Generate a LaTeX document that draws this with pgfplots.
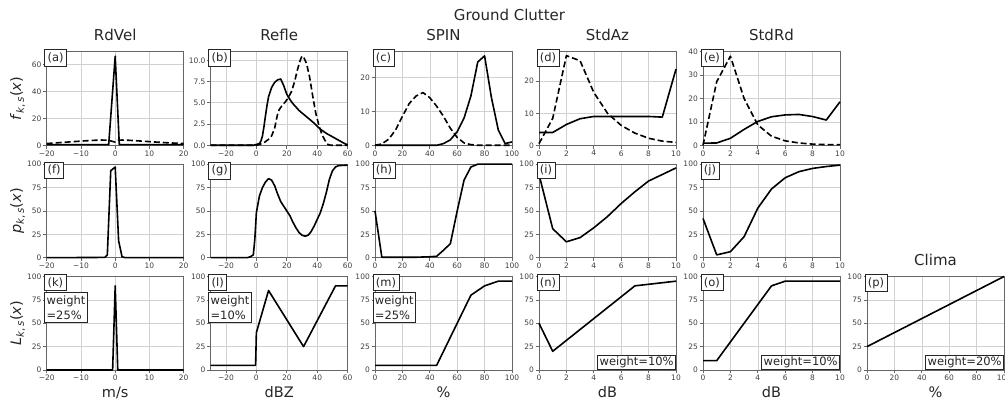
\documentclass[border=0pt]{standalone}
\usepackage{fontspec}
\setmainfont{DejaVu Sans}
\usepackage{pgfplots}
\pgfplotsset{compat=1.18}
\pgfplotsset{
  panel/.style={
    scale only axis, width=137pt, height=93.5pt, clip=false,
    axis line style={black!60, line width=0.8pt},
    grid=major, major grid style={black!18, line width=0.6pt},
    tick align=outside, tick pos=left, major tick length=3.5pt,
    tick style={black!60, line width=0.7pt},
    tick label style={font=\fontsize{7.5}{8}\selectfont, text=black!75, inner sep=1.5pt},
    title style={at={(0.5,1.0535)}, anchor=base, font=\fontsize{15}{17}\selectfont, text=black!85},
    xlabel style={at={(axis description cs:0.5,-0.289)}, anchor=base, font=\fontsize{14.5}{16}\selectfont, text=black!85},
    ylabel style={at={(axis description cs:-0.213,0.5)}, anchor=center, font=\fontsize{14.5}{16}\selectfont, text=black!85},
    every axis plot post/.append style={draw=black, line width=1.6pt, line join=round, mark=none},
    anchor=south west,
  },
  xA/.style={xmin=-20, xmax=20, xtick={-20,-10,0,10,20}, xticklabels={−20,−10,0,10,20}},
  xB/.style={xmin=-30, xmax=60, xtick={-20,0,20,40,60}, xticklabels={−20,0,20,40,60}},
  xC/.style={xmin=0, xmax=100, xtick={0,20,40,60,80,100}, xticklabels={0,20,40,60,80,100}},
  xD/.style={xmin=0, xmax=10, xtick={0,2,4,6,8,10}, xticklabels={0,2,4,6,8,10}},
  yP/.style={ymin=0, ymax=100, ytick={0,25,50,75,100}, yticklabels={0,25,50,75,100}},
  dsh/.style={dash pattern=on 6pt off 3pt},
}
\tikzset{
  lbl/.style={draw=black!85, fill=white, line width=0.8pt, anchor=north west, xshift=-2.5pt, yshift=2.5pt,
    inner sep=3pt, font=\fontsize{11.5}{13}\selectfont, text=black!85},
  wtl/.style={draw=black!85, fill=white, line width=0.8pt, anchor=north west, xshift=-2.5pt, yshift=-15.6pt,
    inner xsep=2pt, inner ysep=3pt, align=left, font=\fontsize{11.5}{15}\selectfont, text=black!85},
  wbr/.style={draw=black!85, fill=white, line width=0.8pt, anchor=south east,
    inner xsep=2pt, inner ysep=1.5pt, font=\fontsize{11.5}{13}\selectfont, text=black!85},
}
\begin{document}
\begin{tikzpicture}
\useasboundingbox (0,0) rectangle (1005pt,401pt);
\node[font=\fontsize{15}{17}\selectfont, text=black!85, anchor=base] at (509.5pt,380.3pt) {Ground Clutter};

% ---------------- Row 1 ----------------
\begin{axis}[panel, at={(46.7pt,255.7pt)}, xA, ymin=0, ymax=69.3, ytick={0,20,40,60}, yticklabels={0,20,40,60},
  title={RdVel}, ylabel={\textit{f}\textsubscript{\textit{k},\,\textit{s}}(\textit{x})}]
\addplot coordinates {(-20,0.5) (-1.9,0.5) (0,66) (1.2,0.5) (20,0.5)};
\addplot[dsh] coordinates {(-20,1.3) (-15,2.2) (-10,3.1) (-6,3.7) (-4,3.9) (-2,3.8) (-1,3.0) (0,2.4) (1,3.8) (2,3.9) (4,3.7) (6,3.4) (10,2.7) (15,1.9) (20,1.3)};
\node[lbl] at (rel axis cs:0,1) {(a)};
\end{axis}

\begin{axis}[panel, at={(210.7pt,255.7pt)}, xB, ymin=0, ymax=11.0, ytick={0,2.5,5,7.5,10}, yticklabels={0.0,2.5,5.0,7.5,10.0},
  title={Refle}]
\addplot coordinates {(-30,0) (-2,0) (0,0.1) (2,0.2) (3,0.5) (4,1.1) (5,2.2) (6,3.5) (7,4.7) (8,5.7) (10,6.8) (12,7.4) (14,7.7) (16,7.8) (18,7.0) (20,6.0) (22,5.4) (24,4.9) (26,4.5) (28,4.1) (30,3.8) (34,3.2) (38,2.6) (42,1.9) (46,1.4) (50,1.0) (54,0.6) (58,0.2) (60,0.05)};
\addplot[dsh] coordinates {(-30,0) (0,0) (2,0.1) (5,0.3) (8,0.7) (10,1.1) (12,2.0) (13,2.9) (14,3.7) (15,4.2) (17,4.7) (19,5.1) (21,5.6) (23,6.3) (25,7.4) (27,8.9) (29,10.1) (30,10.5) (31,10.4) (33,9.6) (35,8.0) (37,5.8) (39,3.8) (41,2.4) (43,1.3) (45,0.6) (47,0.1) (49,0) (60,0)};
\node[lbl] at (rel axis cs:0,1) {(b)};
\end{axis}

\begin{axis}[panel, at={(375pt,255.7pt)}, xC, ymin=0, ymax=27.5, ytick={0,10,20}, yticklabels={0,10,20},
  title={SPIN}]
\addplot coordinates {(0,0) (45,0) (50,0.5) (55,1.6) (60,4) (65,8) (70,14.5) (75,24.5) (80,26.3) (85,14) (90,4.5) (95,0.5) (100,1)};
\addplot[dsh] coordinates {(0,0) (5,0.4) (10,1.8) (15,4.5) (20,8.5) (25,12.3) (30,14.5) (35,15.5) (40,14) (45,11.5) (50,8.5) (55,5) (60,2.3) (65,0.7) (70,0.2) (75,0) (100,0)};
\node[lbl] at (rel axis cs:0,1) {(c)};
\end{axis}

\begin{axis}[panel, at={(539pt,255.7pt)}, xD, ymin=0, ymax=29.2, ytick={0,10,20}, yticklabels={0,10,20},
  title={StdAz}]
\addplot coordinates {(0,4) (1,4) (2,6.5) (3,8.3) (4,9) (5,9) (6,9) (7,9) (8,9) (9,8.8) (10,23.8)};
\addplot[dsh] coordinates {(0,0.5) (1,8.4) (2,28) (3,26.4) (4,16.5) (5,10) (6,6.2) (7,3.8) (8,2.2) (9,1.3) (10,0.9)};
\node[lbl] at (rel axis cs:0,1) {(d)};
\end{axis}

\begin{axis}[panel, at={(703pt,255.7pt)}, xD, ymin=0, ymax=40, ytick={0,10,20,30,40}, yticklabels={0,10,20,30,40},
  title={StdRd}]
\addplot coordinates {(0,0.9) (1,1) (2,3) (3,6.8) (4,10.2) (5,12.2) (6,13) (7,13.2) (8,12.3) (9,10.8) (10,18.6)};
\addplot[dsh] coordinates {(0,0) (1,27.2) (2,38.1) (3,20) (4,8.7) (5,3.9) (6,1.9) (7,1.0) (8,0.5) (9,0.3) (10,0.3)};
\node[lbl] at (rel axis cs:0,1) {(e)};
\end{axis}

% ---------------- Row 2 ----------------
\begin{axis}[panel, at={(46.7pt,143.3pt)}, xA, yP,
  ylabel={\textit{p}\textsubscript{\textit{k},\,\textit{s}}(\textit{x})}]
\addplot coordinates {(-20,0) (-3,0.3) (-2.3,3) (-1.3,93) (0,97) (1,18) (2,1) (3,0) (20,0)};
\node[lbl] at (rel axis cs:0,1) {(f)};
\end{axis}

\begin{axis}[panel, at={(210.7pt,143.3pt)}, xB, yP]
\addplot coordinates {(-30,0) (-6,0) (-4,1) (-2,3) (-1,20) (0,48) (2,66) (4,75) (6,81) (8,84.5) (10,83) (12,77) (14,68) (16,60) (18,55) (20,50) (22,45) (24,38) (26,32) (28,27) (30,24) (32,23) (34,24) (36,28) (38,34) (40,41) (42,48) (44,58) (46,70) (48,84) (50,93) (52,97) (54,98.5) (60,99)};
\node[lbl] at (rel axis cs:0,1) {(g)};
\end{axis}

\begin{axis}[panel, at={(375pt,143.3pt)}, xC, yP]
\addplot coordinates {(0,50) (5,0.5) (10,0.5) (20,0.5) (30,0.5) (40,1) (45,1.5) (50,8) (55,15) (60,50) (65,83) (70,97) (75,100) (100,100)};
\node[lbl] at (rel axis cs:0,1) {(h)};
\end{axis}

\begin{axis}[panel, at={(539pt,143.3pt)}, xD, yP]
\addplot coordinates {(0,89) (1,31) (2,17) (3,21.5) (4,32) (5,44) (6,58) (7,70.5) (8,82) (9,89) (10,96)};
\node[lbl] at (rel axis cs:0,1) {(i)};
\end{axis}

\begin{axis}[panel, at={(703pt,143.3pt)}, xD, yP]
\addplot coordinates {(0,42) (1,3) (2,6.4) (3,22.5) (4,53) (5,73.5) (6,85.5) (7,92) (8,95.5) (9,97.5) (10,99)};
\node[lbl] at (rel axis cs:0,1) {(j)};
\end{axis}

% ---------------- Row 3 ----------------
\begin{axis}[panel, at={(46.7pt,31pt)}, xA, yP, xlabel={m/s},
  ylabel={\textit{L}\textsubscript{\textit{k},\,\textit{s}}(\textit{x})}]
\addplot coordinates {(-20,0) (-0.75,0) (0,90) (0.75,0) (20,0)};
\node[lbl] at (rel axis cs:0,1) {(k)};
\node[wtl] at (rel axis cs:0,1) {weight\\=25\%};
\end{axis}

\begin{axis}[panel, at={(210.7pt,31pt)}, xB, yP, xlabel={dBZ}]
\addplot coordinates {(-30,5) (-0.5,5) (0,40) (8,85) (31,25) (52,90) (60,90)};
\node[lbl] at (rel axis cs:0,1) {(l)};
\node[wtl] at (rel axis cs:0,1) {weight\\=10\%};
\end{axis}

\begin{axis}[panel, at={(375pt,31pt)}, xC, yP, xlabel={\%}]
\addplot coordinates {(0,5) (45,5) (70,80) (80,90) (90,95) (100,95)};
\node[lbl] at (rel axis cs:0,1) {(m)};
\node[wtl] at (rel axis cs:0,1) {weight\\=25\%};
\end{axis}

\begin{axis}[panel, at={(539pt,31pt)}, xD, yP, xlabel={dB}]
\addplot coordinates {(0,50) (1,20) (7,90) (10,95)};
\node[lbl] at (rel axis cs:0,1) {(n)};
\node[wbr] at (rel axis cs:1,0) {weight=10\%};
\end{axis}

\begin{axis}[panel, at={(703pt,31pt)}, xD, yP, xlabel={dB}]
\addplot coordinates {(0,10) (1,10) (5,90) (6,95) (10,95)};
\node[lbl] at (rel axis cs:0,1) {(o)};
\node[wbr] at (rel axis cs:1,0) {weight=10\%};
\end{axis}

\begin{axis}[panel, at={(867pt,31pt)}, xC, yP, xlabel={\%}, title={Clima}]
\addplot coordinates {(0,25) (100,100)};
\node[lbl] at (rel axis cs:0,1) {(p)};
\node[wbr] at (rel axis cs:1,0) {weight=20\%};
\end{axis}
\end{tikzpicture}
\end{document}
